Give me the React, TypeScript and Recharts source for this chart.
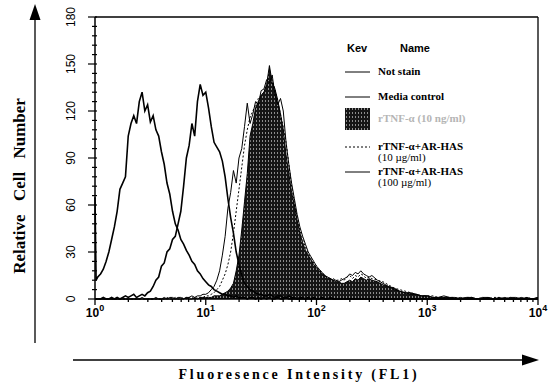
import React from 'react';
import { ComposedChart, Line, Area, XAxis, YAxis, ReferenceLine } from 'recharts';

// log10 of fluorescence intensity (FL1) for each histogram bin
const logBins = [
  0, 0.01,
  0.025, 0.05, 0.075, 0.1, 0.125, 0.15, 0.175, 0.2, 0.225, 0.25,
  0.275, 0.3, 0.325, 0.35, 0.375, 0.4, 0.425, 0.45, 0.475, 0.5,
  0.525, 0.55, 0.575, 0.6, 0.625, 0.65, 0.675, 0.7, 0.725, 0.75,
  0.775, 0.8, 0.825, 0.85, 0.875, 0.9, 0.925, 0.95, 0.975, 1.0,
  1.025, 1.05, 1.075, 1.1, 1.125, 1.15, 1.175, 1.2, 1.225, 1.25,
  1.275, 1.3, 1.325, 1.35, 1.375, 1.4, 1.425, 1.45, 1.475, 1.5,
  1.525, 1.55, 1.575, 1.6, 1.625, 1.65, 1.675, 1.7, 1.725, 1.75,
  1.775, 1.8, 1.825, 1.85, 1.875, 1.9, 1.925, 1.95, 1.975, 2.0,
  2.025, 2.05, 2.075, 2.1, 2.125, 2.15, 2.175, 2.2, 2.225, 2.25,
  2.275, 2.3, 2.325, 2.35, 2.375, 2.4, 2.425, 2.45, 2.475, 2.5,
  2.55, 2.6, 2.65, 2.7, 2.75, 2.8, 2.85, 2.9, 2.95, 3.0,
  3.05, 3.1, 3.15, 3.2, 3.25, 3.3, 3.35, 3.4, 3.45, 3.5,
  3.55, 3.6, 3.65, 3.7, 3.75, 3.8, 3.85, 3.9, 3.95, 4.0,
];

const notStain = [
  65, 12,
  14, 16, 19, 24, 30, 38, 46, 56, 70, 74,
  78, 104, 112, 117, 112, 126, 132, 120, 124, 113,
  117, 108, 104, 94, 86, 74, 67, 56, 48, 44,
  38, 35, 31, 28, 24, 22, 18, 16, 13, 11,
  9, 8, 6, 5, 4, 3, 3, 2, 2, 1,
  2, 1, 1, 1, 0, 1, 1, 0, 1, 0,
  1, 0, 1, 0, 0, 1, 0, 0, 1, 0,
  0, 0, 0, 0, 0, 0, 0, 0, 0, 0,
  0, 0, 0, 0, 0, 0, 0, 0, 0, 0,
  0, 0, 0, 0, 0, 0, 0, 0, 0, 0,
  0, 0, 0, 0, 0, 0, 0, 0, 0, 0,
  0, 0, 0, 0, 0, 0, 0, 0, 0, 0,
  0, 0, 0, 0, 0, 0, 0, 0, 0, 0,
];

const mediaControl = [
  0, 0,
  0, 0, 1, 0, 0, 1, 0, 1, 0, 1,
  2, 1, 2, 3, 1, 2, 3, 2, 4, 5,
  8, 12, 14, 21, 23, 30, 32, 38, 40, 48,
  56, 72, 90, 98, 112, 104, 126, 137, 130, 132,
  122, 110, 100, 97, 94, 88, 78, 64, 52, 42,
  30, 22, 15, 10, 8, 6, 5, 4, 3, 3,
  2, 2, 3, 2, 1, 2, 2, 1, 1, 2,
  1, 1, 0, 1, 1, 0, 1, 0, 1, 0,
  0, 1, 0, 0, 1, 0, 0, 0, 0, 0,
  0, 0, 0, 0, 0, 0, 0, 0, 0, 0,
  0, 0, 0, 0, 0, 0, 0, 0, 0, 0,
  0, 0, 0, 0, 0, 0, 0, 0, 0, 0,
  0, 0, 0, 0, 0, 0, 0, 0, 0, 0,
];

const tnfAlone = [
  0, 0,
  0, 0, 0, 0, 0, 0, 0, 0, 0, 0,
  0, 0, 0, 0, 0, 0, 0, 0, 0, 0,
  0, 0, 0, 0, 0, 0, 0, 0, 0, 0,
  0, 0, 1, 0, 0, 1, 0, 1, 1, 1,
  1, 1, 2, 2, 2, 3, 4, 5, 7, 10,
  18, 28, 44, 62, 80, 104, 112, 122, 126, 130,
  132, 137, 149, 138, 134, 127, 118, 108, 92, 80,
  68, 60, 50, 42, 36, 31, 28, 25, 22, 20,
  18, 16, 15, 13, 13, 12, 11, 11, 10, 10,
  11, 12, 11, 13, 12, 14, 13, 12, 13, 12,
  11, 9, 8, 7, 5, 4, 4, 3, 2, 2,
  1, 1, 1, 1, 0, 1, 0, 1, 0, 0,
  1, 0, 0, 1, 0, 0, 1, 0, 0, 1,
];

const tnfHas10 = [
  0, 0,
  0, 0, 0, 0, 0, 0, 0, 0, 0, 0,
  0, 0, 0, 0, 0, 0, 0, 0, 0, 0,
  0, 0, 0, 0, 0, 1, 0, 0, 1, 0,
  0, 1, 0, 1, 1, 0, 1, 1, 1, 2,
  2, 3, 4, 6, 8, 12, 16, 22, 30, 42,
  56, 70, 84, 98, 108, 116, 120, 124, 128, 130,
  132, 136, 138, 140, 134, 126, 118, 110, 100, 86,
  72, 62, 52, 44, 38, 33, 29, 26, 23, 21,
  18, 17, 15, 14, 13, 13, 12, 12, 13, 12,
  14, 15, 13, 15, 14, 16, 15, 13, 14, 13,
  12, 11, 9, 7, 6, 5, 4, 3, 2, 2,
  2, 1, 1, 1, 1, 0, 1, 1, 0, 1,
  0, 1, 1, 0, 1, 0, 0, 1, 0, 1,
];

const tnfHas100 = [
  0, 0,
  0, 0, 0, 0, 0, 0, 0, 0, 0, 0,
  0, 0, 0, 0, 0, 0, 1, 0, 0, 0,
  0, 1, 0, 0, 1, 0, 1, 1, 0, 1,
  1, 0, 1, 1, 2, 1, 2, 2, 3, 3,
  4, 6, 8, 12, 18, 28, 40, 58, 68, 82,
  74, 90, 96, 110, 125, 112, 118, 126, 124, 133,
  134, 140, 138, 143, 130, 124, 128, 120, 100, 86,
  74, 64, 54, 46, 40, 35, 30, 27, 24, 21,
  19, 17, 15, 14, 13, 12, 12, 11, 12, 13,
  14, 16, 15, 17, 16, 18, 16, 15, 14, 15,
  12, 10, 8, 6, 5, 4, 3, 3, 2, 2,
  1, 1, 2, 1, 1, 0, 1, 1, 0, 1,
  1, 0, 1, 0, 1, 1, 0, 1, 0, 1,
];

const decadeTicks = [0, 1, 2, 3, 4];
const countTicks = [0, 30, 60, 90, 120, 150, 180];

const legendItems = [
  { name: 'Not stain', kind: 'line' },
  { name: 'Media control', kind: 'line' },
  { name: 'rTNF-α (10 ng/ml)', kind: 'fill' },
  { name: 'rTNF-α+AR-HAS', sub: '(10 µg/ml)', kind: 'dot' },
  { name: 'rTNF-α+AR-HAS', sub: '(100 µg/ml)', kind: 'line' },
];

const data = logBins.map((x, i) => ({
  x,
  notStain: notStain[i],
  media: mediaControl[i],
  tnf: tnfAlone[i],
  has10: tnfHas10[i],
  has100: tnfHas100[i],
}));

const xTicks = decadeTicks
  .concat(decadeTicks.slice(0, -1).flatMap((d) => [2, 3, 4, 5, 6, 7, 8, 9].map((k) => d + Math.log10(k))))
  .sort((a, b) => a - b);
const yTicks = Array.from({ length: 31 }, (_, i) => i * 6);

const SANS = '"Liberation Sans", Arial, sans-serif';
const SERIF = '"Liberation Serif", "Times New Roman", serif';

const XTick = ({ x, y, payload }: any) => {
  const major = decadeTicks.includes(payload.value);
  return (
    <g>
      <line x1={x} x2={x} y1={y} y2={y + (major ? 6 : 3)} stroke="#000" strokeWidth={1.3} />
      {major && (
        <text x={x} y={y + 18} textAnchor="middle" fontFamily={SANS} fontSize={12} fontWeight="bold" fill="#000">
          10
          <tspan dy={-6} fontSize={9}>{payload.value}</tspan>
        </text>
      )}
    </g>
  );
};

const YTick = ({ x, y, payload }: any) => {
  const major = countTicks.includes(payload.value);
  const lx = x - 24;
  return (
    <g>
      <line x1={x - (major ? 7 : 3)} x2={x + 2} y1={y} y2={y} stroke="#000" strokeWidth={1.2} />
      {major && (
        <text
          x={lx}
          y={y}
          transform={`rotate(-90 ${lx} ${y})`}
          textAnchor="middle"
          dominantBaseline="central"
          fontFamily={SANS}
          fontSize={12}
          fill="#000"
        >
          {payload.value}
        </text>
      )}
    </g>
  );
};

const Decorations = () => (
  <svg width={552} height={383} style={{ position: 'absolute', left: 0, top: 0, pointerEvents: 'none' }}>
    <defs>
      <pattern id="legendStipple" width={3} height={4} patternUnits="userSpaceOnUse">
        <rect width={3} height={4} fill="#151515" />
        <rect x={1} y={0} width={1} height={2} fill="#8c8c8c" />
      </pattern>
    </defs>
    {/* y arrow */}
    <line x1={35} x2={35} y1={343} y2={18} stroke="#000" strokeWidth={1.3} />
    <polygon points="35,4 29.5,20 40.5,20" fill="#000" />
    <text
      x={19}
      y={186}
      transform="rotate(-90 19 186)"
      textAnchor="middle"
      dominantBaseline="central"
      fontFamily={SERIF}
      fontWeight="bold"
      fontSize={17}
      wordSpacing={9}
    >
      Relative Cell Number
    </text>
    {/* x arrow */}
    <line x1={73} x2={526} y1={360} y2={360} stroke="#000" strokeWidth={1.3} />
    <polygon points="539,360 522,354.5 522,365.5" fill="#000" />
    <text x={299} y={379} textAnchor="middle" fontFamily={SERIF} fontWeight="bold" fontSize={14} letterSpacing={2.8}>
      Fluoresence Intensity (FL1)
    </text>
    {/* legend */}
    <text x={347} y={52} fontFamily={SANS} fontWeight="bold" fontSize={11}>Kev</text>
    <text x={400} y={52} fontFamily={SANS} fontWeight="bold" fontSize={11}>Name</text>
    {legendItems.map((item, i) => {
      const rowY = [72, 97, 119, 147, 172][i];
      return (
        <g key={i}>
          {item.kind === 'fill' ? (
            <rect x={345} y={108} width={25} height={22} fill="url(#legendStipple)" />
          ) : (
            <line
              x1={345}
              x2={370}
              y1={rowY}
              y2={rowY}
              stroke="#000"
              strokeWidth={1}
              strokeDasharray={item.kind === 'dot' ? '2 2' : undefined}
            />
          )}
          <text
            x={378}
            y={rowY + 3}
            fontFamily={SERIF}
            fontWeight="bold"
            fontSize={11}
            fill={item.kind === 'fill' ? '#b5b5b5' : '#000'}
          >
            {item.name}
          </text>
          {item.sub && (
            <text x={378} y={rowY + 14} fontFamily={SERIF} fontSize={11} fill="#000">
              {item.sub}
            </text>
          )}
        </g>
      );
    })}
  </svg>
);

export default function App() {
  return (
    <div style={{ position: 'absolute', left: 0, top: 0, width: 552, height: 383, background: '#fff' }}>
      <ComposedChart width={552} height={383} data={data} margin={{ top: 17, right: 14, bottom: 54, left: 0 }}>
        <defs>
          <pattern id="stipple" width={3} height={4} patternUnits="userSpaceOnUse">
            <rect width={3} height={4} fill="#151515" />
            <rect x={1} y={0} width={1} height={2} fill="#8c8c8c" />
          </pattern>
        </defs>
        <XAxis
          dataKey="x"
          type="number"
          domain={[0, 4]}
          ticks={xTicks}
          interval={0}
          height={30}
          tickSize={0}
          tickMargin={0}
          tick={<XTick />}
          axisLine={{ stroke: '#000', strokeWidth: 1.5 }}
          tickLine={false}
        />
        <YAxis
          type="number"
          domain={[0, 180]}
          ticks={yTicks}
          interval={0}
          width={95}
          tickSize={0}
          tickMargin={0}
          tick={<YTick />}
          axisLine={{ stroke: '#000', strokeWidth: 1.5 }}
          tickLine={false}
        />
        <ReferenceLine y={180} stroke="#000" strokeWidth={1.3} />
        <ReferenceLine x={4} stroke="#000" strokeWidth={1.3} />
        <Line dataKey="has100" type="linear" stroke="#000" strokeWidth={1} dot={false} activeDot={false} isAnimationActive={false} />
        <Line dataKey="has10" type="linear" stroke="#000" strokeWidth={1} strokeDasharray="2 2" dot={false} activeDot={false} isAnimationActive={false} />
        <Area dataKey="tnf" type="linear" stroke="#000" strokeWidth={1} fill="url(#stipple)" fillOpacity={1} dot={false} activeDot={false} isAnimationActive={false} />
        <Line dataKey="media" type="linear" stroke="#000" strokeWidth={1.6} dot={false} activeDot={false} isAnimationActive={false} />
        <Line dataKey="notStain" type="linear" stroke="#000" strokeWidth={1.6} dot={false} activeDot={false} isAnimationActive={false} />
      </ComposedChart>
      <Decorations />
    </div>
  );
}
